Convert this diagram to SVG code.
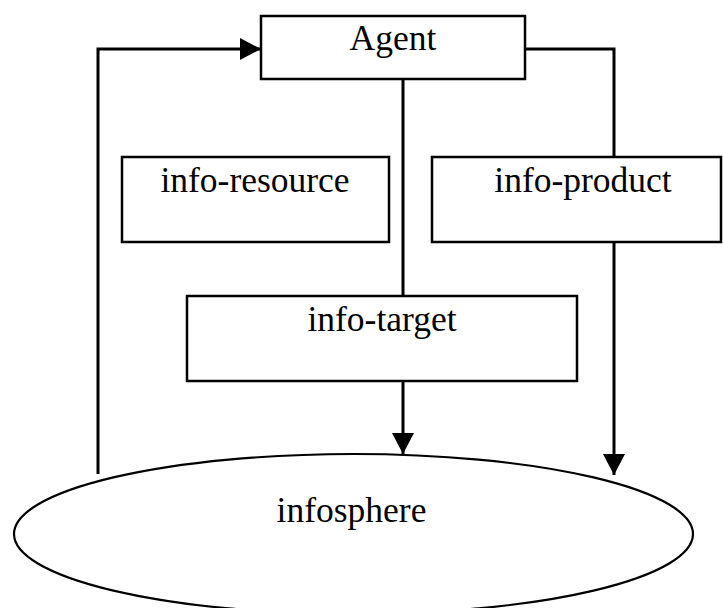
<svg xmlns="http://www.w3.org/2000/svg" width="723" height="608" viewBox="0 0 723 608">
<style>
.box{fill:#fff;stroke:#000;stroke-width:2.5}
.ell{fill:#fff;stroke:#000;stroke-width:2.2}
.lbl{font-family:"Liberation Serif","Times New Roman",serif;font-size:35.5px;fill:#000;text-anchor:middle}
.con{fill:none;stroke:#000;stroke-width:3}
</style>
<defs>
<marker id="ah" markerUnits="userSpaceOnUse" markerWidth="21" markerHeight="22" refX="21" refY="11" orient="auto">
<path d="M0,0 L21,11 L0,22 z" fill="#000"/>
</marker>
</defs>
<rect width="723" height="608" fill="#fff"/>
<g id="agent"><rect class="box" x="261" y="16" width="264" height="63"/><text class="lbl" x="393" y="50">Agent</text></g>
<g id="info-resource"><rect class="box" x="122" y="157" width="267" height="85"/><text class="lbl" x="255" y="192">info-resource</text></g>
<g id="info-product"><rect class="box" x="432" y="157" width="289" height="85"/><text class="lbl" x="583" y="192">info-product</text></g>
<g id="info-target"><rect class="box" x="187" y="296" width="390" height="85"/><text class="lbl" x="382" y="331">info-target</text></g>
<g id="infosphere"><ellipse class="ell" cx="353.5" cy="534" rx="339.5" ry="80"/><text class="lbl" x="351.5" y="522">infosphere</text></g>
<g id="connectors">
<path class="con" d="M98,474 V49 H261" marker-end="url(#ah)"/>
<path class="con" d="M525,49 H614 V157"/>
<path class="con" d="M614,242 V475" marker-end="url(#ah)"/>
<path class="con" d="M403,79 V296"/>
<path class="con" d="M403,381 V454" marker-end="url(#ah)"/>
</g>
</svg>
